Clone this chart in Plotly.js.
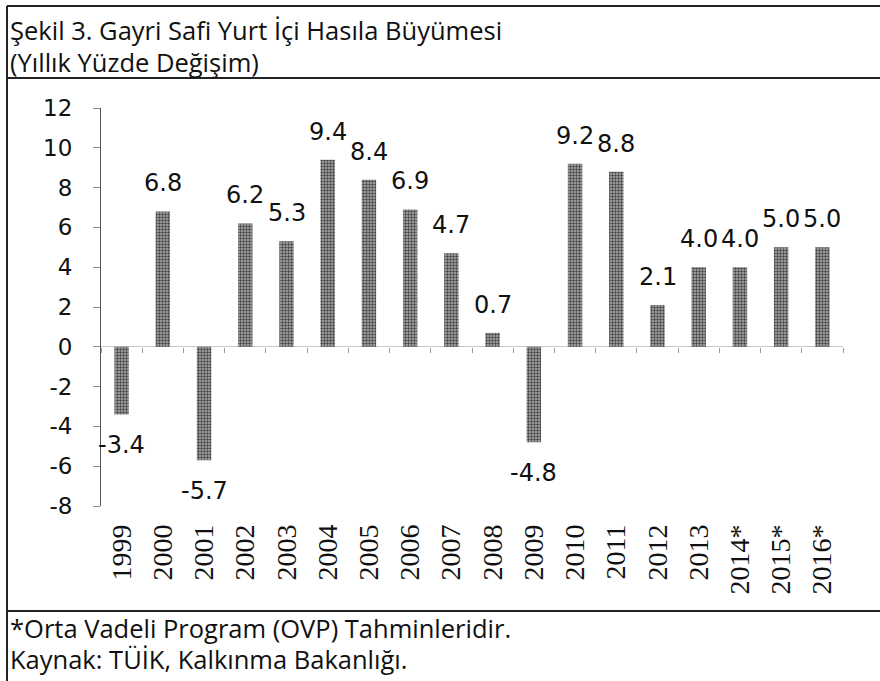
<!DOCTYPE html>
<html>
<head>
<meta charset="utf-8">
<script src="https://cdn.plot.ly/plotly-3.0.1.min.js"></script>
<style>html,body{margin:0;padding:0;background:#fff;}#chart{width:880px;height:681px;}</style>
</head>
<body>
<div id="chart"></div>
<script>
// ---- data ----
const years = ["1999","2000","2001","2002","2003","2004","2005","2006","2007","2008","2009","2010","2011","2012","2013","2014*","2015*","2016*"];
const growth = [-3.4, 6.8, -5.7, 6.2, 5.3, 9.4, 8.4, 6.9, 4.7, 0.7, -4.8, 9.2, 8.8, 2.1, 4.0, 4.0, 5.0, 5.0];
const titleLines = ["Şekil 3. Gayri Safi Yurt İçi Hasıla Büyümesi", "(Yıllık Yüzde Değişim)"];
const footerLines = ["*Orta Vadeli Program (OVP) Tahminleridir.", "Kaynak: TÜİK, Kalkınma Bakanlığı."];
const yTicks = [-8, -6, -4, -2, 0, 2, 4, 6, 8, 10, 12];

// ---- geometry helpers (pixel -> paper) ----
const W = 880, H = 681;
const M = {l: 101, r: 37, t: 108, b: 175};
const pw = W - M.l - M.r, ph = H - M.t - M.b;
const px = x => (x - M.l) / pw;
const py = y => (H - M.b - y) / ph;

const sansTitle = "'Open Sans', sans-serif";
const xRange = [-0.5, years.length - 0.5];

const bars = {
  type: 'bar',
  x: years,
  y: growth,
  width: 0.35,
  marker: {
    color: '#a0a0a0',
    line: {width: 0},
    pattern: {shape: '.', fgcolor: '#444', bgcolor: '#b0b0b0', size: 3, solidity: 0.5}
  },
  hoverinfo: 'x+y'
};
const zeroAxisTrace = {
  type: 'scatter', mode: 'none', x: years, y: growth, xaxis: 'x2', hoverinfo: 'skip', showlegend: false
};

// category positions given by index so numeric-looking names are not read as numbers
const valueLabels = years.map((yr, i) => ({
  x: i, y: growth[i], xref: 'x', yref: 'y',
  text: growth[i].toFixed(1),
  showarrow: false,
  yanchor: 'middle',
  yshift: growth[i] >= 0 ? 28 : -31,
  font: {family: 'DejaVu Sans', size: 24, color: '#111'}
}));

const textAnn = [
  {text: titleLines[0], y: py(30)},
  {text: titleLines[1], y: py(62)},
  {text: footerLines[0], y: py(628)},
  {text: footerLines[1], y: py(659)}
].map(a => ({
  text: a.text, x: px(8), y: a.y, xref: 'paper', yref: 'paper',
  xanchor: 'left', yanchor: 'middle', showarrow: false,
  font: {family: sansTitle, size: 25.5, color: '#111'}
}));

const lineStyle = {color: '#222', width: 2};
const shapes = [
  {type: 'line', xref: 'paper', yref: 'paper', x0: px(7), x1: px(880), y0: py(6), y1: py(6), line: lineStyle},
  {type: 'line', xref: 'paper', yref: 'paper', x0: px(7), x1: px(880), y0: py(78), y1: py(78), line: lineStyle},
  {type: 'line', xref: 'paper', yref: 'paper', x0: px(7), x1: px(880), y0: py(611), y1: py(611), line: lineStyle},
  {type: 'line', xref: 'paper', yref: 'paper', x0: px(7), x1: px(7), y0: py(6), y1: py(681), line: lineStyle}
];

const layout = {
  width: W, height: H,
  margin: M,
  paper_bgcolor: '#fff', plot_bgcolor: '#fff',
  showlegend: false,
  xaxis: {
    type: 'category', categoryorder: 'array', categoryarray: years, range: xRange,
    showline: false, showgrid: false, zeroline: false, ticks: '',
    tickangle: -90,
    ticklabelstandoff: 12,
    tickfont: {family: "'Liberation Serif', serif", size: 28, color: '#111'},
    fixedrange: true
  },
  xaxis2: {
    type: 'category', categoryorder: 'array', categoryarray: years, range: xRange,
    overlaying: 'x', anchor: 'free', position: py(347),
    side: 'bottom', showline: false, showgrid: false, zeroline: false,
    ticks: 'outside', ticklen: 5, tickcolor: '#999', tickwidth: 1,
    tickson: 'boundaries', showticklabels: false, fixedrange: true
  },
  yaxis: {
    range: [-8, 12], tickmode: 'array', tickvals: yTicks, ticktext: yTicks.map(String),
    showgrid: false, zeroline: true, zerolinecolor: '#c8c8c8', zerolinewidth: 1,
    showline: true, linecolor: '#555', linewidth: 1,
    ticks: 'outside', ticklen: 7, tickcolor: '#888',
    ticklabelstandoff: 16,
    tickfont: {family: 'DejaVu Sans', size: 23, color: '#111'},
    fixedrange: true
  },
  annotations: valueLabels.concat(textAnn),
  shapes: shapes
};

Plotly.newPlot('chart', [bars, zeroAxisTrace], layout, {displayModeBar: false, staticPlot: true});
</script>
</body>
</html>
